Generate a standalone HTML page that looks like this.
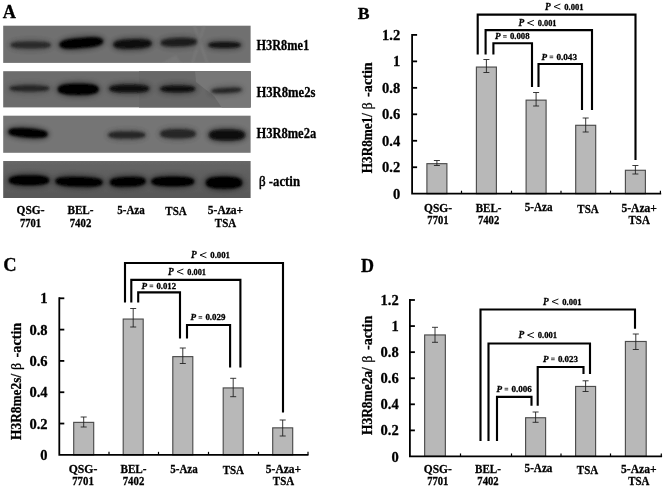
<!DOCTYPE html>
<html><head><meta charset="utf-8"><title>Figure</title>
<style>
html,body{margin:0;padding:0;background:#fff;}
body{width:665px;height:491px;overflow:hidden;font-family:"Liberation Serif",serif;}
svg{display:block;}
svg text{font-family:"Liberation Serif",serif;fill:#000;stroke:#000;stroke-width:0.28px;}
</style></head><body>
<svg width="665" height="491" viewBox="0 0 665 491">
<defs>
<filter id="bl1" x="-30%" y="-80%" width="160%" height="260%"><feGaussianBlur stdDeviation="1.3"/></filter>
<filter id="bl2" x="-30%" y="-80%" width="160%" height="260%"><feGaussianBlur stdDeviation="2.4"/></filter>
<linearGradient id="g4" x1="0" y1="0" x2="0" y2="1"><stop offset="0" stop-color="#676767"/><stop offset="0.35" stop-color="#5f5f5f"/><stop offset="1" stop-color="#585858"/></linearGradient>
<filter id="soft" x="-5%" y="-5%" width="110%" height="110%"><feGaussianBlur stdDeviation="0.35"/></filter>
</defs>
<rect width="665" height="491" fill="#fff"/>
<g filter="url(#soft)">
<text x="2.8" y="17.7" font-size="18.2" font-weight="bold" font-style="normal" text-anchor="start" >A</text>
<g><rect x="3.2" y="25.7" width="247.4" height="37.2" fill="#707070"/>
<clipPath id="c25"><rect x="3.2" y="25.7" width="247.4" height="37.2"/></clipPath>
<g clip-path="url(#c25)">
<g opacity="0.4" filter="url(#bl1)"><path d="M204.5 25 L192 64" stroke="#858585" stroke-width="2.5"/><path d="M194 25 L207.5 64" stroke="#858585" stroke-width="2.5"/><path d="M160 64 L176 55 L182 64Z" fill="#858585"/></g>
<path d="M52.5 45.0 L52.3 46.2 L51.6 47.1 L50.5 47.9 L49.0 48.6 L47.0 49.2 L44.7 49.7 L42.0 50.0 L38.9 50.3 L35.4 50.5 L30.8 50.5 L26.1 50.5 L22.6 50.3 L19.5 50.0 L16.8 49.7 L14.5 49.2 L12.5 48.6 L11.0 47.9 L9.9 47.1 L9.2 46.2 L9.0 45.0 L9.2 43.8 L9.9 42.9 L11.0 42.1 L12.5 41.4 L14.5 40.8 L16.8 40.3 L19.5 40.0 L22.6 39.7 L26.1 39.5 L30.7 39.5 L35.4 39.5 L38.9 39.7 L42.0 40.0 L44.7 40.3 L47.0 40.8 L49.0 41.4 L50.5 42.1 L51.6 42.9 L52.3 43.8Z" fill="#202020" opacity="0.36000000000000004" filter="url(#bl2)" transform="rotate(0 30.75 45)"/>
<path d="M50.5 45.0 L50.3 45.9 L49.8 46.4 L48.9 46.9 L47.6 47.3 L46.0 47.7 L44.1 47.9 L41.8 48.2 L39.0 48.3 L35.7 48.4 L30.8 48.5 L25.8 48.4 L22.5 48.3 L19.7 48.2 L17.4 47.9 L15.5 47.7 L13.9 47.3 L12.6 46.9 L11.7 46.4 L11.2 45.9 L11.0 45.0 L11.2 44.1 L11.7 43.6 L12.6 43.1 L13.9 42.7 L15.5 42.3 L17.4 42.1 L19.7 41.8 L22.5 41.7 L25.8 41.6 L30.7 41.5 L35.7 41.6 L39.0 41.7 L41.8 41.8 L44.1 42.1 L46.0 42.3 L47.6 42.7 L48.9 43.1 L49.8 43.6 L50.3 44.1Z" fill="#202020" opacity="0.8" filter="url(#bl1)" transform="rotate(0 30.75 45)"/>
<path d="M105.0 43.0 L104.8 44.5 L104.0 45.7 L102.8 46.7 L101.2 47.6 L99.0 48.4 L96.5 49.0 L93.5 49.5 L90.2 49.9 L86.3 50.1 L81.3 50.2 L76.2 50.1 L72.3 49.9 L69.0 49.5 L66.0 49.0 L63.5 48.4 L61.3 47.6 L59.7 46.7 L58.5 45.7 L57.7 44.5 L57.5 43.0 L57.7 41.5 L58.5 40.3 L59.7 39.3 L61.3 38.4 L63.5 37.6 L66.0 37.0 L69.0 36.5 L72.3 36.1 L76.2 35.9 L81.2 35.8 L86.3 35.9 L90.2 36.1 L93.5 36.5 L96.5 37.0 L99.0 37.6 L101.2 38.4 L102.8 39.3 L104.0 40.3 L104.8 41.5Z" fill="#050505" opacity="0.4365" filter="url(#bl2)" transform="rotate(-5 81.25 43)"/>
<path d="M103.0 43.0 L102.8 44.3 L102.2 45.1 L101.2 45.8 L99.8 46.4 L98.1 46.9 L95.9 47.4 L93.4 47.7 L90.4 47.9 L86.8 48.1 L81.3 48.1 L75.7 48.1 L72.1 47.9 L69.1 47.7 L66.6 47.4 L64.4 46.9 L62.7 46.4 L61.3 45.8 L60.3 45.1 L59.7 44.3 L59.5 43.0 L59.7 41.7 L60.3 40.9 L61.3 40.2 L62.7 39.6 L64.4 39.1 L66.6 38.6 L69.1 38.3 L72.1 38.1 L75.7 37.9 L81.2 37.9 L86.8 37.9 L90.4 38.1 L93.4 38.3 L95.9 38.6 L98.1 39.1 L99.8 39.6 L101.2 40.2 L102.2 40.9 L102.8 41.7Z" fill="#050505" opacity="0.97" filter="url(#bl1)" transform="rotate(-5 81.25 43)"/>
<path d="M153.5 44.0 L153.3 45.4 L152.6 46.6 L151.6 47.5 L150.1 48.4 L148.2 49.1 L146.0 49.7 L143.4 50.2 L140.4 50.5 L137.0 50.7 L132.5 50.8 L128.0 50.7 L124.6 50.5 L121.6 50.2 L119.0 49.7 L116.8 49.1 L114.9 48.4 L113.4 47.5 L112.4 46.6 L111.7 45.4 L111.5 44.0 L111.7 42.6 L112.4 41.4 L113.4 40.5 L114.9 39.6 L116.8 38.9 L119.0 38.3 L121.6 37.8 L124.6 37.5 L128.0 37.3 L132.5 37.2 L137.0 37.3 L140.4 37.5 L143.4 37.8 L146.0 38.3 L148.2 38.9 L150.1 39.6 L151.6 40.5 L152.6 41.4 L153.3 42.6Z" fill="#0c0c0c" opacity="0.4275" filter="url(#bl2)" transform="rotate(-2 132.5 44)"/>
<path d="M151.5 44.0 L151.3 45.2 L150.8 46.0 L149.9 46.6 L148.7 47.2 L147.2 47.6 L145.3 48.0 L143.1 48.3 L140.5 48.5 L137.3 48.7 L132.5 48.7 L127.7 48.7 L124.5 48.5 L121.9 48.3 L119.7 48.0 L117.8 47.6 L116.3 47.2 L115.1 46.6 L114.2 46.0 L113.7 45.2 L113.5 44.0 L113.7 42.8 L114.2 42.0 L115.1 41.4 L116.3 40.8 L117.8 40.4 L119.7 40.0 L121.9 39.7 L124.5 39.5 L127.7 39.3 L132.5 39.3 L137.3 39.3 L140.5 39.5 L143.1 39.7 L145.3 40.0 L147.2 40.4 L148.7 40.8 L149.9 41.4 L150.8 42.0 L151.3 42.8Z" fill="#0c0c0c" opacity="0.95" filter="url(#bl1)" transform="rotate(-2 132.5 44)"/>
<path d="M198.5 42.3 L198.3 43.6 L197.7 44.6 L196.7 45.5 L195.3 46.2 L193.5 46.9 L191.4 47.4 L189.0 47.8 L186.2 48.2 L183.0 48.3 L178.8 48.4 L174.5 48.3 L171.3 48.2 L168.5 47.8 L166.1 47.4 L164.0 46.9 L162.2 46.2 L160.8 45.5 L159.8 44.6 L159.2 43.6 L159.0 42.3 L159.2 41.0 L159.8 40.0 L160.8 39.1 L162.2 38.4 L164.0 37.7 L166.1 37.2 L168.5 36.8 L171.3 36.4 L174.5 36.3 L178.7 36.2 L183.0 36.3 L186.2 36.4 L189.0 36.8 L191.4 37.2 L193.5 37.7 L195.3 38.4 L196.7 39.1 L197.7 40.0 L198.3 41.0Z" fill="#161616" opacity="0.387" filter="url(#bl2)" transform="rotate(-2 178.75 42.3)"/>
<path d="M196.5 42.3 L196.3 43.3 L195.9 44.0 L195.0 44.5 L193.9 45.0 L192.5 45.4 L190.7 45.7 L188.6 46.0 L186.2 46.2 L183.2 46.3 L178.8 46.3 L174.3 46.3 L171.3 46.2 L168.9 46.0 L166.8 45.7 L165.0 45.4 L163.6 45.0 L162.5 44.5 L161.6 44.0 L161.2 43.3 L161.0 42.3 L161.2 41.3 L161.6 40.6 L162.5 40.1 L163.6 39.6 L165.0 39.2 L166.8 38.9 L168.9 38.6 L171.3 38.4 L174.3 38.3 L178.7 38.3 L183.2 38.3 L186.2 38.4 L188.6 38.6 L190.7 38.9 L192.5 39.2 L193.9 39.6 L195.0 40.1 L195.9 40.6 L196.3 41.3Z" fill="#161616" opacity="0.86" filter="url(#bl1)" transform="rotate(-2 178.75 42.3)"/>
<path d="M242.5 45.0 L242.3 46.1 L241.8 46.9 L240.8 47.6 L239.6 48.2 L238.0 48.8 L236.1 49.2 L233.8 49.6 L231.3 49.8 L228.3 50.0 L224.5 50.0 L220.7 50.0 L217.7 49.8 L215.2 49.6 L212.9 49.2 L211.0 48.8 L209.4 48.2 L208.2 47.6 L207.2 46.9 L206.7 46.1 L206.5 45.0 L206.7 43.9 L207.2 43.1 L208.2 42.4 L209.4 41.8 L211.0 41.2 L212.9 40.8 L215.2 40.4 L217.7 40.2 L220.7 40.0 L224.5 40.0 L228.3 40.0 L231.3 40.2 L233.8 40.4 L236.1 40.8 L238.0 41.2 L239.6 41.8 L240.8 42.4 L241.8 43.1 L242.3 43.9Z" fill="#101010" opacity="0.405" filter="url(#bl2)" transform="rotate(0 224.5 45)"/>
<path d="M240.5 45.0 L240.4 45.7 L239.9 46.2 L239.2 46.6 L238.2 47.0 L236.9 47.3 L235.3 47.5 L233.4 47.7 L231.2 47.8 L228.5 47.9 L224.5 48.0 L220.5 47.9 L217.8 47.8 L215.6 47.7 L213.7 47.5 L212.1 47.3 L210.8 47.0 L209.8 46.6 L209.1 46.2 L208.6 45.7 L208.5 45.0 L208.6 44.3 L209.1 43.8 L209.8 43.4 L210.8 43.0 L212.1 42.7 L213.7 42.5 L215.6 42.3 L217.8 42.2 L220.5 42.1 L224.5 42.0 L228.5 42.1 L231.2 42.2 L233.4 42.3 L235.3 42.5 L236.9 42.7 L238.2 43.0 L239.2 43.4 L239.9 43.8 L240.4 44.3Z" fill="#101010" opacity="0.9" filter="url(#bl1)" transform="rotate(0 224.5 45)"/>
</g></g>
<g><rect x="3.2" y="71.2" width="247.4" height="36.2" fill="#6c6c6c"/>
<clipPath id="c71"><rect x="3.2" y="71.2" width="247.4" height="36.2"/></clipPath>
<g clip-path="url(#c71)">
<polygon points="139,71 251,71 251,108 139,108" fill="#676767"/><polygon points="195,71 251,71 251,108 222,108 214,96 196,82" fill="#777777"/>
<path d="M51.0 88.4 L50.8 89.4 L50.1 90.2 L49.0 90.9 L47.5 91.5 L45.6 92.1 L43.3 92.5 L40.6 92.9 L37.6 93.1 L34.1 93.2 L29.5 93.3 L24.9 93.2 L21.4 93.1 L18.4 92.9 L15.7 92.5 L13.4 92.1 L11.5 91.5 L10.0 90.9 L8.9 90.2 L8.2 89.4 L8.0 88.4 L8.2 87.4 L8.9 86.6 L10.0 85.9 L11.5 85.3 L13.4 84.7 L15.7 84.3 L18.4 83.9 L21.4 83.7 L24.9 83.6 L29.5 83.5 L34.1 83.6 L37.6 83.7 L40.6 83.9 L43.3 84.3 L45.6 84.7 L47.5 85.3 L49.0 85.9 L50.1 86.6 L50.8 87.4Z" fill="#1a1a1a" opacity="0.369" filter="url(#bl2)" transform="rotate(0 29.5 88.4)"/>
<path d="M49.0 88.4 L48.8 89.1 L48.3 89.6 L47.4 90.0 L46.2 90.3 L44.6 90.6 L42.7 90.8 L40.4 91.0 L37.7 91.1 L34.4 91.2 L29.5 91.2 L24.6 91.2 L21.3 91.1 L18.6 91.0 L16.3 90.8 L14.4 90.6 L12.8 90.3 L11.6 90.0 L10.7 89.6 L10.2 89.1 L10.0 88.4 L10.2 87.7 L10.7 87.2 L11.6 86.8 L12.8 86.5 L14.4 86.2 L16.3 86.0 L18.6 85.8 L21.3 85.7 L24.6 85.6 L29.5 85.6 L34.4 85.6 L37.7 85.7 L40.4 85.8 L42.7 86.0 L44.6 86.2 L46.2 86.5 L47.4 86.8 L48.3 87.2 L48.8 87.7Z" fill="#1a1a1a" opacity="0.82" filter="url(#bl1)" transform="rotate(0 29.5 88.4)"/>
<path d="M100.5 89.3 L100.3 90.9 L99.6 92.2 L98.5 93.3 L96.9 94.2 L94.9 95.1 L92.5 95.8 L89.8 96.3 L86.6 96.7 L83.0 96.9 L78.3 97.0 L73.5 96.9 L69.9 96.7 L66.7 96.3 L64.0 95.8 L61.6 95.1 L59.6 94.2 L58.0 93.3 L56.9 92.2 L56.2 90.9 L56.0 89.3 L56.2 87.7 L56.9 86.4 L58.0 85.3 L59.6 84.4 L61.6 83.5 L64.0 82.8 L66.7 82.3 L69.9 81.9 L73.5 81.7 L78.2 81.6 L83.0 81.7 L86.6 81.9 L89.8 82.3 L92.5 82.8 L94.9 83.5 L96.9 84.4 L98.5 85.3 L99.6 86.4 L100.3 87.7Z" fill="#000000" opacity="0.45" filter="url(#bl2)" transform="rotate(0 78.25 89.3)"/>
<path d="M98.5 89.3 L98.3 90.7 L97.8 91.6 L96.8 92.4 L95.6 93.1 L93.9 93.6 L91.9 94.1 L89.5 94.4 L86.7 94.7 L83.4 94.8 L78.3 94.9 L73.1 94.8 L69.8 94.7 L67.0 94.4 L64.6 94.1 L62.6 93.6 L60.9 93.1 L59.7 92.4 L58.7 91.6 L58.2 90.7 L58.0 89.3 L58.2 87.9 L58.7 87.0 L59.7 86.2 L60.9 85.5 L62.6 85.0 L64.6 84.5 L67.0 84.2 L69.8 83.9 L73.1 83.8 L78.2 83.7 L83.4 83.8 L86.7 83.9 L89.5 84.2 L91.9 84.5 L93.9 85.0 L95.6 85.5 L96.8 86.2 L97.8 87.0 L98.3 87.9Z" fill="#000000" opacity="1.0" filter="url(#bl1)" transform="rotate(0 78.25 89.3)"/>
<path d="M151.0 88.6 L150.8 89.9 L150.1 90.9 L149.0 91.8 L147.5 92.5 L145.5 93.2 L143.2 93.7 L140.5 94.1 L137.4 94.5 L133.9 94.6 L129.3 94.7 L124.6 94.6 L121.1 94.5 L118.0 94.1 L115.3 93.7 L113.0 93.2 L111.0 92.5 L109.5 91.8 L108.4 90.9 L107.7 89.9 L107.5 88.6 L107.7 87.3 L108.4 86.3 L109.5 85.4 L111.0 84.7 L113.0 84.0 L115.3 83.5 L118.0 83.1 L121.1 82.7 L124.6 82.6 L129.2 82.5 L133.9 82.6 L137.4 82.7 L140.5 83.1 L143.2 83.5 L145.5 84.0 L147.5 84.7 L149.0 85.4 L150.1 86.3 L150.8 87.3Z" fill="#0e0e0e" opacity="0.41400000000000003" filter="url(#bl2)" transform="rotate(0 129.25 88.6)"/>
<path d="M149.0 88.6 L148.8 89.6 L148.3 90.3 L147.4 90.8 L146.1 91.3 L144.5 91.7 L142.6 92.0 L140.3 92.3 L137.5 92.5 L134.2 92.6 L129.3 92.6 L124.3 92.6 L121.0 92.5 L118.2 92.3 L115.9 92.0 L114.0 91.7 L112.4 91.3 L111.1 90.8 L110.2 90.3 L109.7 89.6 L109.5 88.6 L109.7 87.6 L110.2 86.9 L111.1 86.4 L112.4 85.9 L114.0 85.5 L115.9 85.2 L118.2 84.9 L121.0 84.7 L124.3 84.6 L129.2 84.6 L134.2 84.6 L137.5 84.7 L140.3 84.9 L142.6 85.2 L144.5 85.5 L146.1 85.9 L147.4 86.4 L148.3 86.9 L148.8 87.6Z" fill="#0e0e0e" opacity="0.92" filter="url(#bl1)" transform="rotate(0 129.25 88.6)"/>
<path d="M197.0 88.9 L196.8 90.1 L196.2 90.9 L195.2 91.7 L193.9 92.4 L192.2 92.9 L190.1 93.4 L187.7 93.8 L185.0 94.1 L181.9 94.2 L177.8 94.3 L173.6 94.2 L170.5 94.1 L167.8 93.8 L165.4 93.4 L163.3 92.9 L161.6 92.4 L160.3 91.7 L159.3 90.9 L158.7 90.1 L158.5 88.9 L158.7 87.7 L159.3 86.9 L160.3 86.1 L161.6 85.4 L163.3 84.9 L165.4 84.4 L167.8 84.0 L170.5 83.7 L173.6 83.6 L177.7 83.5 L181.9 83.6 L185.0 83.7 L187.7 84.0 L190.1 84.4 L192.2 84.9 L193.9 85.4 L195.2 86.1 L196.2 86.9 L196.8 87.7Z" fill="#101010" opacity="0.41400000000000003" filter="url(#bl2)" transform="rotate(0 177.75 88.9)"/>
<path d="M195.0 88.9 L194.8 89.7 L194.4 90.3 L193.6 90.7 L192.5 91.1 L191.1 91.5 L189.4 91.7 L187.4 91.9 L185.0 92.1 L182.1 92.2 L177.8 92.2 L173.4 92.2 L170.5 92.1 L168.1 91.9 L166.1 91.7 L164.4 91.5 L163.0 91.1 L161.9 90.7 L161.1 90.3 L160.7 89.7 L160.5 88.9 L160.7 88.1 L161.1 87.5 L161.9 87.1 L163.0 86.7 L164.4 86.3 L166.1 86.1 L168.1 85.9 L170.5 85.7 L173.4 85.6 L177.7 85.6 L182.1 85.6 L185.0 85.7 L187.4 85.9 L189.4 86.1 L191.1 86.3 L192.5 86.7 L193.6 87.1 L194.4 87.5 L194.8 88.1Z" fill="#101010" opacity="0.92" filter="url(#bl1)" transform="rotate(0 177.75 88.9)"/>
<path d="M243.5 90.4 L243.3 91.4 L242.8 92.1 L241.9 92.8 L240.7 93.4 L239.2 93.8 L237.4 94.3 L235.3 94.6 L232.9 94.8 L230.1 95.0 L226.5 95.0 L222.9 95.0 L220.1 94.8 L217.7 94.6 L215.6 94.3 L213.8 93.8 L212.3 93.4 L211.1 92.8 L210.2 92.1 L209.7 91.4 L209.5 90.4 L209.7 89.4 L210.2 88.7 L211.1 88.0 L212.3 87.4 L213.8 87.0 L215.6 86.5 L217.7 86.2 L220.1 86.0 L222.9 85.8 L226.5 85.8 L230.1 85.8 L232.9 86.0 L235.3 86.2 L237.4 86.5 L239.2 87.0 L240.7 87.4 L241.9 88.0 L242.8 88.7 L243.3 89.4Z" fill="#1c1c1c" opacity="0.36000000000000004" filter="url(#bl2)" transform="rotate(-3 226.5 90.4)"/>
<path d="M241.5 90.4 L241.4 91.0 L241.0 91.4 L240.3 91.8 L239.3 92.1 L238.1 92.3 L236.6 92.5 L234.9 92.7 L232.8 92.8 L230.3 92.9 L226.5 92.9 L222.7 92.9 L220.2 92.8 L218.1 92.7 L216.4 92.5 L214.9 92.3 L213.7 92.1 L212.7 91.8 L212.0 91.4 L211.6 91.0 L211.5 90.4 L211.6 89.8 L212.0 89.4 L212.7 89.0 L213.7 88.7 L214.9 88.5 L216.4 88.3 L218.1 88.1 L220.2 88.0 L222.7 87.9 L226.5 87.9 L230.3 87.9 L232.8 88.0 L234.9 88.1 L236.6 88.3 L238.1 88.5 L239.3 88.7 L240.3 89.0 L241.0 89.4 L241.4 89.8Z" fill="#1c1c1c" opacity="0.8" filter="url(#bl1)" transform="rotate(-3 226.5 90.4)"/>
</g></g>
<g><rect x="3.2" y="115.7" width="247.4" height="37.1" fill="#757575"/>
<clipPath id="c115"><rect x="3.2" y="115.7" width="247.4" height="37.1"/></clipPath>
<g clip-path="url(#c115)">

<path d="M49.5 133.0 L49.3 134.4 L48.6 135.5 L47.5 136.4 L46.0 137.2 L44.1 137.9 L41.8 138.5 L39.1 139.0 L36.1 139.3 L32.6 139.5 L28.0 139.6 L23.4 139.5 L19.9 139.3 L16.9 139.0 L14.2 138.5 L11.9 137.9 L10.0 137.2 L8.5 136.4 L7.4 135.5 L6.7 134.4 L6.5 133.0 L6.7 131.6 L7.4 130.5 L8.5 129.6 L10.0 128.8 L11.9 128.1 L14.2 127.5 L16.9 127.0 L19.9 126.7 L23.4 126.5 L28.0 126.4 L32.6 126.5 L36.1 126.7 L39.1 127.0 L41.8 127.5 L44.1 128.1 L46.0 128.8 L47.5 129.6 L48.6 130.5 L49.3 131.6Z" fill="#050505" opacity="0.45" filter="url(#bl2)" transform="rotate(4 28.0 133)"/>
<path d="M47.5 133.0 L47.3 134.1 L46.8 134.9 L45.9 135.5 L44.7 136.0 L43.1 136.5 L41.2 136.8 L38.9 137.1 L36.2 137.3 L32.9 137.5 L28.0 137.5 L23.1 137.5 L19.8 137.3 L17.1 137.1 L14.8 136.8 L12.9 136.5 L11.3 136.0 L10.1 135.5 L9.2 134.9 L8.7 134.1 L8.5 133.0 L8.7 131.9 L9.2 131.1 L10.1 130.5 L11.3 130.0 L12.9 129.5 L14.8 129.2 L17.1 128.9 L19.8 128.7 L23.1 128.5 L28.0 128.5 L32.9 128.5 L36.2 128.7 L38.9 128.9 L41.2 129.2 L43.1 129.5 L44.7 130.0 L45.9 130.5 L46.8 131.1 L47.3 131.9Z" fill="#050505" opacity="1.0" filter="url(#bl1)" transform="rotate(4 28.0 133)"/>
<path d="M147.0 135.0 L146.8 136.2 L146.2 137.1 L145.1 137.9 L143.7 138.6 L141.9 139.2 L139.8 139.7 L137.2 140.0 L134.4 140.3 L131.1 140.5 L126.8 140.6 L122.4 140.5 L119.1 140.3 L116.3 140.0 L113.7 139.7 L111.6 139.2 L109.8 138.6 L108.4 137.9 L107.3 137.1 L106.7 136.2 L106.5 135.0 L106.7 133.8 L107.3 132.9 L108.4 132.1 L109.8 131.4 L111.6 130.8 L113.7 130.3 L116.3 130.0 L119.1 129.7 L122.4 129.5 L126.7 129.4 L131.1 129.5 L134.4 129.7 L137.2 130.0 L139.8 130.3 L141.9 130.8 L143.7 131.4 L145.1 132.1 L146.2 132.9 L146.8 133.8Z" fill="#1e1e1e" opacity="0.36000000000000004" filter="url(#bl2)" transform="rotate(0 126.75 135)"/>
<path d="M145.0 135.0 L144.8 135.9 L144.3 136.4 L143.5 136.9 L142.3 137.3 L140.9 137.7 L139.1 137.9 L136.9 138.2 L134.4 138.3 L131.4 138.4 L126.8 138.4 L122.1 138.4 L119.1 138.3 L116.6 138.2 L114.4 137.9 L112.6 137.7 L111.2 137.3 L110.0 136.9 L109.2 136.4 L108.7 135.9 L108.5 135.0 L108.7 134.1 L109.2 133.6 L110.0 133.1 L111.2 132.7 L112.6 132.3 L114.4 132.1 L116.6 131.8 L119.1 131.7 L122.1 131.6 L126.7 131.6 L131.4 131.6 L134.4 131.7 L136.9 131.8 L139.1 132.1 L140.9 132.3 L142.3 132.7 L143.5 133.1 L144.3 133.6 L144.8 134.1Z" fill="#1e1e1e" opacity="0.8" filter="url(#bl1)" transform="rotate(0 126.75 135)"/>
<path d="M197.5 133.8 L197.3 135.2 L196.7 136.3 L195.7 137.2 L194.3 138.0 L192.6 138.7 L190.5 139.3 L188.1 139.8 L185.3 140.1 L182.2 140.3 L178.0 140.4 L173.8 140.3 L170.7 140.1 L167.9 139.8 L165.5 139.3 L163.4 138.7 L161.7 138.0 L160.3 137.2 L159.3 136.3 L158.7 135.2 L158.5 133.8 L158.7 132.4 L159.3 131.3 L160.3 130.4 L161.7 129.6 L163.4 128.9 L165.5 128.3 L167.9 127.8 L170.7 127.5 L173.8 127.3 L178.0 127.2 L182.2 127.3 L185.3 127.5 L188.1 127.8 L190.5 128.3 L192.6 128.9 L194.3 129.6 L195.7 130.4 L196.7 131.3 L197.3 132.4Z" fill="#1c1c1c" opacity="0.36000000000000004" filter="url(#bl2)" transform="rotate(0 178.0 133.8)"/>
<path d="M195.5 133.8 L195.3 134.9 L194.9 135.7 L194.1 136.3 L193.0 136.8 L191.5 137.3 L189.8 137.6 L187.7 137.9 L185.3 138.1 L182.4 138.3 L178.0 138.3 L173.6 138.3 L170.7 138.1 L168.3 137.9 L166.2 137.6 L164.5 137.3 L163.0 136.8 L161.9 136.3 L161.1 135.7 L160.7 134.9 L160.5 133.8 L160.7 132.7 L161.1 131.9 L161.9 131.3 L163.0 130.8 L164.5 130.3 L166.2 130.0 L168.3 129.7 L170.7 129.5 L173.6 129.3 L178.0 129.3 L182.4 129.3 L185.3 129.5 L187.7 129.7 L189.8 130.0 L191.5 130.3 L193.0 130.8 L194.1 131.3 L194.9 131.9 L195.3 132.7Z" fill="#1c1c1c" opacity="0.8" filter="url(#bl1)" transform="rotate(0 178.0 133.8)"/>
<path d="M247.0 135.0 L246.8 136.6 L246.2 137.9 L245.2 138.9 L243.8 139.9 L242.0 140.7 L239.8 141.4 L237.4 141.9 L234.5 142.3 L231.3 142.5 L227.0 142.6 L222.7 142.5 L219.5 142.3 L216.6 141.9 L214.2 141.4 L212.0 140.7 L210.2 139.9 L208.8 138.9 L207.8 137.9 L207.2 136.6 L207.0 135.0 L207.2 133.4 L207.8 132.1 L208.8 131.1 L210.2 130.1 L212.0 129.3 L214.2 128.6 L216.6 128.1 L219.5 127.7 L222.7 127.5 L227.0 127.4 L231.3 127.5 L234.5 127.7 L237.4 128.1 L239.8 128.6 L242.0 129.3 L243.8 130.1 L245.2 131.1 L246.2 132.1 L246.8 133.4Z" fill="#0c0c0c" opacity="0.41850000000000004" filter="url(#bl2)" transform="rotate(0 227.0 135)"/>
<path d="M245.0 135.0 L244.8 136.4 L244.3 137.3 L243.5 138.1 L242.4 138.7 L240.9 139.3 L239.1 139.7 L237.0 140.0 L234.5 140.3 L231.6 140.4 L227.0 140.5 L222.4 140.4 L219.5 140.3 L217.0 140.0 L214.9 139.7 L213.1 139.3 L211.6 138.7 L210.5 138.1 L209.7 137.3 L209.2 136.4 L209.0 135.0 L209.2 133.6 L209.7 132.7 L210.5 131.9 L211.6 131.3 L213.1 130.7 L214.9 130.3 L217.0 130.0 L219.5 129.7 L222.4 129.6 L227.0 129.5 L231.6 129.6 L234.5 129.7 L237.0 130.0 L239.1 130.3 L240.9 130.7 L242.4 131.3 L243.5 131.9 L244.3 132.7 L244.8 133.6Z" fill="#0c0c0c" opacity="0.93" filter="url(#bl1)" transform="rotate(0 227.0 135)"/>
</g></g>
<g><rect x="3.2" y="161" width="247.4" height="37" fill="url(#g4)"/>
<clipPath id="c161"><rect x="3.2" y="161" width="247.4" height="37"/></clipPath>
<g clip-path="url(#c161)">

<path d="M51.0 180.3 L50.8 181.8 L50.1 182.9 L49.0 184.0 L47.4 184.8 L45.5 185.6 L43.1 186.2 L40.4 186.7 L37.3 187.1 L33.7 187.3 L29.0 187.4 L24.3 187.3 L20.7 187.1 L17.6 186.7 L14.9 186.2 L12.5 185.6 L10.6 184.8 L9.0 184.0 L7.9 182.9 L7.2 181.8 L7.0 180.3 L7.2 178.8 L7.9 177.7 L9.0 176.6 L10.6 175.8 L12.5 175.0 L14.9 174.4 L17.6 173.9 L20.7 173.5 L24.3 173.3 L29.0 173.2 L33.7 173.3 L37.3 173.5 L40.4 173.9 L43.1 174.4 L45.5 175.0 L47.4 175.8 L49.0 176.6 L50.1 177.7 L50.8 178.8Z" fill="#000000" opacity="0.45" filter="url(#bl2)" transform="rotate(0 29.0 180.3)"/>
<path d="M49.0 180.3 L48.8 181.6 L48.3 182.4 L47.4 183.1 L46.1 183.6 L44.5 184.1 L42.5 184.5 L40.1 184.8 L37.4 185.1 L34.1 185.2 L29.0 185.2 L23.9 185.2 L20.6 185.1 L17.9 184.8 L15.5 184.5 L13.5 184.1 L11.9 183.6 L10.6 183.1 L9.7 182.4 L9.2 181.6 L9.0 180.3 L9.2 179.0 L9.7 178.2 L10.6 177.5 L11.9 177.0 L13.5 176.5 L15.5 176.1 L17.9 175.8 L20.6 175.5 L23.9 175.4 L29.0 175.4 L34.1 175.4 L37.4 175.5 L40.1 175.8 L42.5 176.1 L44.5 176.5 L46.1 177.0 L47.4 177.5 L48.3 178.2 L48.8 179.0Z" fill="#000000" opacity="1.0" filter="url(#bl1)" transform="rotate(0 29.0 180.3)"/>
<path d="M104.5 181.8 L104.2 183.3 L103.5 184.4 L102.2 185.4 L100.4 186.2 L98.1 187.0 L95.4 187.6 L92.2 188.1 L88.6 188.4 L84.4 188.6 L79.0 188.7 L73.6 188.6 L69.4 188.4 L65.8 188.1 L62.6 187.6 L59.9 187.0 L57.6 186.2 L55.8 185.4 L54.5 184.4 L53.8 183.3 L53.5 181.8 L53.8 180.3 L54.5 179.2 L55.8 178.2 L57.6 177.4 L59.9 176.6 L62.6 176.0 L65.8 175.5 L69.4 175.2 L73.6 175.0 L79.0 174.9 L84.4 175.0 L88.6 175.2 L92.2 175.5 L95.4 176.0 L98.1 176.6 L100.4 177.4 L102.2 178.2 L103.5 179.2 L104.2 180.3Z" fill="#000000" opacity="0.45" filter="url(#bl2)" transform="rotate(1.5 79.0 181.8)"/>
<path d="M102.5 181.8 L102.3 183.0 L101.6 183.8 L100.6 184.5 L99.1 185.0 L97.2 185.5 L94.9 185.9 L92.1 186.2 L88.8 186.4 L84.9 186.6 L79.0 186.6 L73.1 186.6 L69.2 186.4 L65.9 186.2 L63.1 185.9 L60.8 185.5 L58.9 185.0 L57.4 184.5 L56.4 183.8 L55.7 183.0 L55.5 181.8 L55.7 180.6 L56.4 179.8 L57.4 179.1 L58.9 178.6 L60.8 178.1 L63.1 177.7 L65.9 177.4 L69.2 177.2 L73.1 177.0 L79.0 177.0 L84.9 177.0 L88.8 177.2 L92.1 177.4 L94.9 177.7 L97.2 178.1 L99.1 178.6 L100.6 179.1 L101.6 179.8 L102.3 180.6Z" fill="#000000" opacity="1.0" filter="url(#bl1)" transform="rotate(1.5 79.0 181.8)"/>
<path d="M147.5 181.8 L147.3 183.3 L146.7 184.4 L145.7 185.4 L144.3 186.2 L142.5 187.0 L140.4 187.6 L138.0 188.1 L135.2 188.4 L132.0 188.6 L127.8 188.7 L123.5 188.6 L120.3 188.4 L117.5 188.1 L115.1 187.6 L113.0 187.0 L111.2 186.2 L109.8 185.4 L108.8 184.4 L108.2 183.3 L108.0 181.8 L108.2 180.3 L108.8 179.2 L109.8 178.2 L111.2 177.4 L113.0 176.6 L115.1 176.0 L117.5 175.5 L120.3 175.2 L123.5 175.0 L127.7 174.9 L132.0 175.0 L135.2 175.2 L138.0 175.5 L140.4 176.0 L142.5 176.6 L144.3 177.4 L145.7 178.2 L146.7 179.2 L147.3 180.3Z" fill="#000000" opacity="0.45" filter="url(#bl2)" transform="rotate(-2 127.75 181.8)"/>
<path d="M145.5 181.8 L145.3 183.0 L144.9 183.8 L144.0 184.5 L142.9 185.0 L141.5 185.5 L139.7 185.9 L137.6 186.2 L135.2 186.4 L132.2 186.6 L127.8 186.6 L123.3 186.6 L120.3 186.4 L117.9 186.2 L115.8 185.9 L114.0 185.5 L112.6 185.0 L111.5 184.5 L110.6 183.8 L110.2 183.0 L110.0 181.8 L110.2 180.6 L110.6 179.8 L111.5 179.1 L112.6 178.6 L114.0 178.1 L115.8 177.7 L117.9 177.4 L120.3 177.2 L123.3 177.0 L127.7 177.0 L132.2 177.0 L135.2 177.2 L137.6 177.4 L139.7 177.7 L141.5 178.1 L142.9 178.6 L144.0 179.1 L144.9 179.8 L145.3 180.6Z" fill="#000000" opacity="1.0" filter="url(#bl1)" transform="rotate(-2 127.75 181.8)"/>
<path d="M196.0 181.5 L195.8 183.0 L195.0 184.1 L193.9 185.1 L192.2 185.9 L190.2 186.7 L187.7 187.3 L184.8 187.8 L181.5 188.1 L177.7 188.3 L172.8 188.4 L167.8 188.3 L164.0 188.1 L160.7 187.8 L157.8 187.3 L155.3 186.7 L153.3 185.9 L151.6 185.1 L150.5 184.1 L149.7 183.0 L149.5 181.5 L149.7 180.0 L150.5 178.9 L151.6 177.9 L153.3 177.1 L155.3 176.3 L157.8 175.7 L160.7 175.2 L164.0 174.9 L167.8 174.7 L172.7 174.6 L177.7 174.7 L181.5 174.9 L184.8 175.2 L187.7 175.7 L190.2 176.3 L192.2 177.1 L193.9 177.9 L195.0 178.9 L195.8 180.0Z" fill="#000000" opacity="0.45" filter="url(#bl2)" transform="rotate(0 172.75 181.5)"/>
<path d="M194.0 181.5 L193.8 182.7 L193.2 183.5 L192.3 184.2 L190.9 184.7 L189.2 185.2 L187.1 185.6 L184.6 185.9 L181.7 186.1 L178.1 186.3 L172.8 186.3 L167.4 186.3 L163.8 186.1 L160.9 185.9 L158.4 185.6 L156.3 185.2 L154.6 184.7 L153.2 184.2 L152.3 183.5 L151.7 182.7 L151.5 181.5 L151.7 180.3 L152.3 179.5 L153.2 178.8 L154.6 178.3 L156.3 177.8 L158.4 177.4 L160.9 177.1 L163.8 176.9 L167.4 176.7 L172.7 176.7 L178.1 176.7 L181.7 176.9 L184.6 177.1 L187.1 177.4 L189.2 177.8 L190.9 178.3 L192.3 178.8 L193.2 179.5 L193.8 180.3Z" fill="#000000" opacity="1.0" filter="url(#bl1)" transform="rotate(0 172.75 181.5)"/>
<path d="M244.0 182.7 L243.8 184.4 L243.2 185.7 L242.2 186.9 L240.8 187.9 L239.0 188.8 L236.8 189.5 L234.4 190.1 L231.5 190.5 L228.3 190.7 L224.0 190.8 L219.7 190.7 L216.5 190.5 L213.6 190.1 L211.2 189.5 L209.0 188.8 L207.2 187.9 L205.8 186.9 L204.8 185.7 L204.2 184.4 L204.0 182.7 L204.2 181.0 L204.8 179.7 L205.8 178.5 L207.2 177.5 L209.0 176.6 L211.2 175.9 L213.6 175.3 L216.5 174.9 L219.7 174.7 L224.0 174.6 L228.3 174.7 L231.5 174.9 L234.4 175.3 L236.8 175.9 L239.0 176.6 L240.8 177.5 L242.2 178.5 L243.2 179.7 L243.8 181.0Z" fill="#000000" opacity="0.45" filter="url(#bl2)" transform="rotate(0 224.0 182.7)"/>
<path d="M242.0 182.7 L241.8 184.2 L241.3 185.2 L240.5 186.0 L239.4 186.7 L237.9 187.3 L236.1 187.8 L234.0 188.2 L231.5 188.5 L228.6 188.6 L224.0 188.7 L219.4 188.6 L216.5 188.5 L214.0 188.2 L211.9 187.8 L210.1 187.3 L208.6 186.7 L207.5 186.0 L206.7 185.2 L206.2 184.2 L206.0 182.7 L206.2 181.2 L206.7 180.2 L207.5 179.4 L208.6 178.7 L210.1 178.1 L211.9 177.6 L214.0 177.2 L216.5 176.9 L219.4 176.8 L224.0 176.7 L228.6 176.8 L231.5 176.9 L234.0 177.2 L236.1 177.6 L237.9 178.1 L239.4 178.7 L240.5 179.4 L241.3 180.2 L241.8 181.2Z" fill="#000000" opacity="1.0" filter="url(#bl1)" transform="rotate(0 224.0 182.7)"/>
</g></g>
<text x="256.4" y="50.2" font-size="14" font-weight="bold" font-style="normal" text-anchor="start" textLength="52.8" lengthAdjust="spacingAndGlyphs" >H3R8me1</text>
<text x="256.4" y="97.3" font-size="14" font-weight="bold" font-style="normal" text-anchor="start" textLength="59" lengthAdjust="spacingAndGlyphs" >H3R8me2s</text>
<text x="256.4" y="138.0" font-size="14" font-weight="bold" font-style="normal" text-anchor="start" textLength="59.8" lengthAdjust="spacingAndGlyphs" >H3R8me2a</text>
<text x="259.0" y="185.5" font-size="14" font-weight="bold" font-style="normal" text-anchor="start" textLength="41" lengthAdjust="spacingAndGlyphs" ><tspan font-weight="normal" stroke-width="0.55" font-size="14.3">&#946;</tspan> -actin</text>
<text x="30.5" y="214.4" font-size="12.3" font-weight="bold" font-style="normal" text-anchor="middle" textLength="27.9" lengthAdjust="spacingAndGlyphs" >QSG-</text>
<text x="30.5" y="227.2" font-size="12" font-weight="bold" font-style="normal" text-anchor="middle" textLength="21.2" lengthAdjust="spacingAndGlyphs" >7701</text>
<text x="80.5" y="214.4" font-size="12.3" font-weight="bold" font-style="normal" text-anchor="middle" textLength="26.2" lengthAdjust="spacingAndGlyphs" >BEL-</text>
<text x="80.5" y="227.2" font-size="12" font-weight="bold" font-style="normal" text-anchor="middle" textLength="21.6" lengthAdjust="spacingAndGlyphs" >7402</text>
<text x="131" y="213.9" font-size="12.3" font-weight="bold" font-style="normal" text-anchor="middle" textLength="27.5" lengthAdjust="spacingAndGlyphs" >5-Aza</text>
<text x="176" y="215.4" font-size="12.3" font-weight="bold" font-style="normal" text-anchor="middle" textLength="21.3" lengthAdjust="spacingAndGlyphs" >TSA</text>
<text x="225.5" y="214.4" font-size="12.3" font-weight="bold" font-style="normal" text-anchor="middle" textLength="35.3" lengthAdjust="spacingAndGlyphs" >5-Aza+</text>
<text x="225.5" y="227.2" font-size="12" font-weight="bold" font-style="normal" text-anchor="middle" textLength="21.3" lengthAdjust="spacingAndGlyphs" >TSA</text>
<text x="357.8" y="19.3" font-size="17.7" font-weight="bold" font-style="normal" text-anchor="start" >B</text>
<rect x="426.90" y="163.66" width="20.00" height="29.94" fill="#b8b8b8" stroke="#4c4c4c" stroke-width="1.15"/>
<path d="M436.9 160.5 L436.9 165.5 M433.9 160.5 L439.9 160.5 M433.9 165.5 L439.9 165.5" stroke="#222" stroke-width="0.9" fill="none"/>
<rect x="476.40" y="67.06" width="20.00" height="126.54" fill="#b8b8b8" stroke="#4c4c4c" stroke-width="1.15"/>
<path d="M486.4 59.5 L486.4 72.5 M483.4 59.5 L489.4 59.5 M483.4 72.5 L489.4 72.5" stroke="#222" stroke-width="0.9" fill="none"/>
<rect x="526.10" y="100.14" width="20.00" height="93.46" fill="#b8b8b8" stroke="#4c4c4c" stroke-width="1.15"/>
<path d="M536.1 92.5 L536.1 106 M533.1 92.5 L539.1 92.5 M533.1 106 L539.1 106" stroke="#222" stroke-width="0.9" fill="none"/>
<rect x="575.70" y="125.29" width="20.00" height="68.31" fill="#b8b8b8" stroke="#4c4c4c" stroke-width="1.15"/>
<path d="M585.7 118 L585.7 132 M582.7 118 L588.7 118 M582.7 132 L588.7 132" stroke="#222" stroke-width="0.9" fill="none"/>
<rect x="625.40" y="170.28" width="20.00" height="23.32" fill="#b8b8b8" stroke="#4c4c4c" stroke-width="1.15"/>
<path d="M635.4 165.5 L635.4 174 M632.4 165.5 L638.4 165.5 M632.4 174 L638.4 174" stroke="#222" stroke-width="0.9" fill="none"/>
<path d="M412.1 33.9 L412.1 193.7 L661.2 193.7" fill="none" stroke="#000" stroke-width="1.8" stroke-linejoin="miter"/>
<text x="400.2" y="199.30" font-size="14.5" font-weight="bold" font-style="normal" text-anchor="end" >0</text>
<line x1="412.1" y1="167.23" x2="417.1" y2="167.23" stroke="#000" stroke-width="1.8"/>
<text x="400.2" y="172.33" font-size="14.5" font-weight="bold" font-style="normal" text-anchor="end" textLength="18.2" lengthAdjust="spacingAndGlyphs" >0.2</text>
<line x1="412.1" y1="140.77" x2="417.1" y2="140.77" stroke="#000" stroke-width="1.8"/>
<text x="400.2" y="145.87" font-size="14.5" font-weight="bold" font-style="normal" text-anchor="end" textLength="18.2" lengthAdjust="spacingAndGlyphs" >0.4</text>
<line x1="412.1" y1="114.30" x2="417.1" y2="114.30" stroke="#000" stroke-width="1.8"/>
<text x="400.2" y="119.40" font-size="14.5" font-weight="bold" font-style="normal" text-anchor="end" textLength="18.2" lengthAdjust="spacingAndGlyphs" >0.6</text>
<line x1="412.1" y1="87.83" x2="417.1" y2="87.83" stroke="#000" stroke-width="1.8"/>
<text x="400.2" y="92.93" font-size="14.5" font-weight="bold" font-style="normal" text-anchor="end" textLength="18.2" lengthAdjust="spacingAndGlyphs" >0.8</text>
<line x1="412.1" y1="61.37" x2="417.1" y2="61.37" stroke="#000" stroke-width="1.8"/>
<text x="400.2" y="66.47" font-size="14.5" font-weight="bold" font-style="normal" text-anchor="end" >1</text>
<line x1="412.1" y1="34.90" x2="417.1" y2="34.90" stroke="#000" stroke-width="1.8"/>
<text x="400.2" y="40.00" font-size="14.5" font-weight="bold" font-style="normal" text-anchor="end" textLength="18.2" lengthAdjust="spacingAndGlyphs" >1.2</text>
<line x1="461.5" y1="193.7" x2="461.5" y2="190.7" stroke="#000" stroke-width="1.2"/>
<line x1="511.5" y1="193.7" x2="511.5" y2="190.7" stroke="#000" stroke-width="1.2"/>
<line x1="561" y1="193.7" x2="561" y2="190.7" stroke="#000" stroke-width="1.2"/>
<line x1="610.5" y1="193.7" x2="610.5" y2="190.7" stroke="#000" stroke-width="1.2"/>
<line x1="660.4" y1="193.7" x2="660.4" y2="190.7" stroke="#000" stroke-width="1.2"/>
<g transform="translate(372.3 173.2) rotate(-90)" font-size="14.3" font-weight="bold"><text x="0" y="0" textLength="60" lengthAdjust="spacingAndGlyphs">H3R8me1/</text><text x="63.8" y="0" font-weight="normal" font-size="14" stroke-width="0.5">&#946;</text><text x="76.3" y="0" textLength="34.6" lengthAdjust="spacingAndGlyphs">-actin</text></g>
<text x="438" y="211.79999999999998" font-size="12.3" font-weight="bold" font-style="normal" text-anchor="middle" textLength="28.0" lengthAdjust="spacingAndGlyphs" >QSG-</text>
<text x="438" y="223.79999999999998" font-size="12" font-weight="bold" font-style="normal" text-anchor="middle" textLength="21.3" lengthAdjust="spacingAndGlyphs" >7701</text>
<text x="488.6" y="211.79999999999998" font-size="12.3" font-weight="bold" font-style="normal" text-anchor="middle" textLength="25.8" lengthAdjust="spacingAndGlyphs" >BEL-</text>
<text x="488.6" y="223.79999999999998" font-size="12" font-weight="bold" font-style="normal" text-anchor="middle" textLength="21.3" lengthAdjust="spacingAndGlyphs" >7402</text>
<text x="538.7" y="211.4" font-size="12.3" font-weight="bold" font-style="normal" text-anchor="middle" textLength="27.8" lengthAdjust="spacingAndGlyphs" >5-Aza</text>
<text x="588" y="213.1" font-size="12.3" font-weight="bold" font-style="normal" text-anchor="middle" textLength="21.3" lengthAdjust="spacingAndGlyphs" >TSA</text>
<text x="639.2" y="212.1" font-size="12.3" font-weight="bold" font-style="normal" text-anchor="middle" textLength="35.6" lengthAdjust="spacingAndGlyphs" >5-Aza+</text>
<text x="639.2" y="224.1" font-size="12" font-weight="bold" font-style="normal" text-anchor="middle" textLength="21.3" lengthAdjust="spacingAndGlyphs" >TSA</text>
<path d="M477.7 54.4 L477.7 14.6 L635.5 14.6 L635.5 160" fill="none" stroke="#000" stroke-width="2.12" stroke-linejoin="miter"/>
<path d="M485.6 54.4 L485.6 30.1 L592 30.1 L592 110" fill="none" stroke="#000" stroke-width="2.12" stroke-linejoin="miter"/>
<path d="M493.4 54.4 L493.4 43.2 L532 43.2 L532 87" fill="none" stroke="#000" stroke-width="2.12" stroke-linejoin="miter"/>
<path d="M538.5 87 L538.5 64 L582 64 L582 110" fill="none" stroke="#000" stroke-width="2.12" stroke-linejoin="miter"/>
<text x="545" y="9.7" font-size="9.299999999999999" font-weight="bold" font-style="italic" stroke-width="0.1">P</text>
<path d="M560.4 3.999999999999999 L554.0 6.6 L560.4 9.2" fill="none" stroke="#111" stroke-width="1"/>
<text x="564.3" y="9.7" font-size="8.7" font-weight="bold" textLength="19.2" lengthAdjust="spacingAndGlyphs">0.001</text>
<text x="518.5" y="26.0" font-size="9.299999999999999" font-weight="bold" font-style="italic" stroke-width="0.1">P</text>
<path d="M533.9 20.3 L527.5 22.9 L533.9 25.5" fill="none" stroke="#111" stroke-width="1"/>
<text x="537.8" y="26.0" font-size="8.7" font-weight="bold" textLength="18.7" lengthAdjust="spacingAndGlyphs">0.001</text>
<text x="494.9" y="39.2" font-size="9.1" font-weight="bold" font-style="italic" stroke-width="0.1">P</text>
<path d="M503.1 35.6 h3.6 M503.1 37.2 h3.6" fill="none" stroke="#111" stroke-width="0.8"/>
<text x="509.9" y="39.2" font-size="8.7" font-weight="bold" textLength="19.6" lengthAdjust="spacingAndGlyphs">0.008</text>
<text x="541.4" y="59.7" font-size="9.1" font-weight="bold" font-style="italic" stroke-width="0.1">P</text>
<path d="M549.6 56.1 h3.6 M549.6 57.7 h3.6" fill="none" stroke="#111" stroke-width="0.8"/>
<text x="556.4" y="59.7" font-size="8.7" font-weight="bold" textLength="20.6" lengthAdjust="spacingAndGlyphs">0.043</text>
<text x="3.3" y="270.7" font-size="18.5" font-weight="bold" font-style="normal" text-anchor="start" >C</text>
<rect x="73.70" y="422.37" width="20.00" height="32.38" fill="#b8b8b8" stroke="#4c4c4c" stroke-width="1.15"/>
<path d="M83.7 417 L83.7 427 M80.7 417 L86.7 417 M80.7 427 L86.7 427" stroke="#222" stroke-width="0.9" fill="none"/>
<rect x="123.20" y="319.05" width="20.00" height="135.70" fill="#b8b8b8" stroke="#4c4c4c" stroke-width="1.15"/>
<path d="M133.2 308.5 L133.2 327 M130.2 308.5 L136.2 308.5 M130.2 327 L136.2 327" stroke="#222" stroke-width="0.9" fill="none"/>
<rect x="172.80" y="356.62" width="20.00" height="98.13" fill="#b8b8b8" stroke="#4c4c4c" stroke-width="1.15"/>
<path d="M182.8 348 L182.8 363.5 M179.8 348 L185.8 348 M179.8 363.5 L185.8 363.5" stroke="#222" stroke-width="0.9" fill="none"/>
<rect x="223.20" y="387.93" width="20.00" height="66.82" fill="#b8b8b8" stroke="#4c4c4c" stroke-width="1.15"/>
<path d="M233.2 378.3 L233.2 396.7 M230.2 378.3 L236.2 378.3 M230.2 396.7 L236.2 396.7" stroke="#222" stroke-width="0.9" fill="none"/>
<rect x="272.70" y="427.85" width="20.00" height="26.90" fill="#b8b8b8" stroke="#4c4c4c" stroke-width="1.15"/>
<path d="M282.7 420 L282.7 436 M279.7 420 L285.7 420 M279.7 436 L285.7 436" stroke="#222" stroke-width="0.9" fill="none"/>
<path d="M59.3 297.3 L59.3 454.85 L308.5 454.85" fill="none" stroke="#000" stroke-width="1.8" stroke-linejoin="miter"/>
<text x="47.6" y="460.45" font-size="14.5" font-weight="bold" font-style="normal" text-anchor="end" >0</text>
<line x1="59.3" y1="423.54" x2="64.3" y2="423.54" stroke="#000" stroke-width="1.8"/>
<text x="47.6" y="428.64" font-size="14.5" font-weight="bold" font-style="normal" text-anchor="end" textLength="18.2" lengthAdjust="spacingAndGlyphs" >0.2</text>
<line x1="59.3" y1="392.23" x2="64.3" y2="392.23" stroke="#000" stroke-width="1.8"/>
<text x="47.6" y="397.33" font-size="14.5" font-weight="bold" font-style="normal" text-anchor="end" textLength="18.2" lengthAdjust="spacingAndGlyphs" >0.4</text>
<line x1="59.3" y1="360.92" x2="64.3" y2="360.92" stroke="#000" stroke-width="1.8"/>
<text x="47.6" y="366.02" font-size="14.5" font-weight="bold" font-style="normal" text-anchor="end" textLength="18.2" lengthAdjust="spacingAndGlyphs" >0.6</text>
<line x1="59.3" y1="329.61" x2="64.3" y2="329.61" stroke="#000" stroke-width="1.8"/>
<text x="47.6" y="334.71" font-size="14.5" font-weight="bold" font-style="normal" text-anchor="end" textLength="18.2" lengthAdjust="spacingAndGlyphs" >0.8</text>
<line x1="59.3" y1="298.30" x2="64.3" y2="298.30" stroke="#000" stroke-width="1.8"/>
<text x="47.6" y="303.40" font-size="14.5" font-weight="bold" font-style="normal" text-anchor="end" >1</text>
<line x1="109" y1="454.85" x2="109" y2="451.85" stroke="#000" stroke-width="1.2"/>
<line x1="158.5" y1="454.85" x2="158.5" y2="451.85" stroke="#000" stroke-width="1.2"/>
<line x1="208.5" y1="454.85" x2="208.5" y2="451.85" stroke="#000" stroke-width="1.2"/>
<line x1="258.5" y1="454.85" x2="258.5" y2="451.85" stroke="#000" stroke-width="1.2"/>
<line x1="308" y1="454.85" x2="308" y2="451.85" stroke="#000" stroke-width="1.2"/>
<g transform="translate(21.2 439.9) rotate(-90)" font-size="14.3" font-weight="bold"><text x="0" y="0" textLength="66" lengthAdjust="spacingAndGlyphs">H3R8me2s/</text><text x="70" y="0" font-weight="normal" font-size="14" stroke-width="0.5">&#946;</text><text x="82.5" y="0" textLength="34.6" lengthAdjust="spacingAndGlyphs">-actin</text></g>
<text x="83" y="473.1" font-size="12.3" font-weight="bold" font-style="normal" text-anchor="middle" textLength="28.7" lengthAdjust="spacingAndGlyphs" >QSG-</text>
<text x="83" y="485" font-size="12" font-weight="bold" font-style="normal" text-anchor="middle" textLength="21.6" lengthAdjust="spacingAndGlyphs" >7701</text>
<text x="133.5" y="473.1" font-size="12.3" font-weight="bold" font-style="normal" text-anchor="middle" textLength="26.2" lengthAdjust="spacingAndGlyphs" >BEL-</text>
<text x="133.5" y="485" font-size="12" font-weight="bold" font-style="normal" text-anchor="middle" textLength="21.6" lengthAdjust="spacingAndGlyphs" >7402</text>
<text x="184" y="472.6" font-size="12.3" font-weight="bold" font-style="normal" text-anchor="middle" textLength="27.5" lengthAdjust="spacingAndGlyphs" >5-Aza</text>
<text x="233.3" y="474.1" font-size="12.3" font-weight="bold" font-style="normal" text-anchor="middle" textLength="21.3" lengthAdjust="spacingAndGlyphs" >TSA</text>
<text x="283.5" y="473.1" font-size="12.3" font-weight="bold" font-style="normal" text-anchor="middle" textLength="35.3" lengthAdjust="spacingAndGlyphs" >5-Aza+</text>
<text x="283.5" y="485" font-size="12" font-weight="bold" font-style="normal" text-anchor="middle" textLength="21.3" lengthAdjust="spacingAndGlyphs" >TSA</text>
<path d="M125 302.4 L125 263 L283 263 L283 412.5" fill="none" stroke="#000" stroke-width="2.12" stroke-linejoin="miter"/>
<path d="M131.3 302.4 L131.3 279.9 L240.4 279.9 L240.4 367.4" fill="none" stroke="#000" stroke-width="2.12" stroke-linejoin="miter"/>
<path d="M138.2 302.4 L138.2 292.4 L180 292.4 L180 338.6" fill="none" stroke="#000" stroke-width="2.12" stroke-linejoin="miter"/>
<path d="M187 338.6 L187 325 L230.1 325 L230.1 367.4" fill="none" stroke="#000" stroke-width="2.12" stroke-linejoin="miter"/>
<text x="191" y="258.2" font-size="9.299999999999999" font-weight="bold" font-style="italic" stroke-width="0.1">P</text>
<path d="M206.4 252.5 L200.0 255.1 L206.4 257.7" fill="none" stroke="#111" stroke-width="1"/>
<text x="210.3" y="258.2" font-size="8.7" font-weight="bold" textLength="19.7" lengthAdjust="spacingAndGlyphs">0.001</text>
<text x="168" y="274.7" font-size="9.299999999999999" font-weight="bold" font-style="italic" stroke-width="0.1">P</text>
<path d="M183.4 269.0 L177.0 271.59999999999997 L183.4 274.2" fill="none" stroke="#111" stroke-width="1"/>
<text x="187.3" y="274.7" font-size="8.7" font-weight="bold" textLength="18.7" lengthAdjust="spacingAndGlyphs">0.001</text>
<text x="141.4" y="288.7" font-size="9.1" font-weight="bold" font-style="italic" stroke-width="0.1">P</text>
<path d="M149.6 285.09999999999997 h3.6 M149.6 286.7 h3.6" fill="none" stroke="#111" stroke-width="0.8"/>
<text x="156.4" y="288.7" font-size="8.7" font-weight="bold" textLength="19.6" lengthAdjust="spacingAndGlyphs">0.012</text>
<text x="190.4" y="320.2" font-size="9.1" font-weight="bold" font-style="italic" stroke-width="0.1">P</text>
<path d="M198.6 316.59999999999997 h3.6 M198.6 318.2 h3.6" fill="none" stroke="#111" stroke-width="0.8"/>
<text x="205.4" y="320.2" font-size="8.7" font-weight="bold" textLength="20.1" lengthAdjust="spacingAndGlyphs">0.029</text>
<text x="360.9" y="271.9" font-size="18" font-weight="bold" font-style="normal" text-anchor="start" >D</text>
<rect x="424.65" y="334.95" width="20.70" height="121.40" fill="#b8b8b8" stroke="#4c4c4c" stroke-width="1.15"/>
<path d="M435.0 327.3 L435.0 342.3 M432.0 327.3 L438.0 327.3 M432.0 342.3 L438.0 342.3" stroke="#222" stroke-width="0.9" fill="none"/>
<rect x="525.60" y="417.74" width="20.00" height="38.61" fill="#b8b8b8" stroke="#4c4c4c" stroke-width="1.15"/>
<path d="M535.6 412 L535.6 422.3 M532.6 412 L538.6 412 M532.6 422.3 L538.6 422.3" stroke="#222" stroke-width="0.9" fill="none"/>
<rect x="575.60" y="386.45" width="20.00" height="69.90" fill="#b8b8b8" stroke="#4c4c4c" stroke-width="1.15"/>
<path d="M585.6 380.8 L585.6 391.5 M582.6 380.8 L588.6 380.8 M582.6 391.5 L588.6 391.5" stroke="#222" stroke-width="0.9" fill="none"/>
<rect x="625.40" y="341.47" width="20.80" height="114.88" fill="#b8b8b8" stroke="#4c4c4c" stroke-width="1.15"/>
<path d="M635.8 334 L635.8 349.5 M632.8 334 L638.8 334 M632.8 349.5 L638.8 349.5" stroke="#222" stroke-width="0.9" fill="none"/>
<path d="M409.9 299.0 L409.9 456.45 L662.1 456.45" fill="none" stroke="#000" stroke-width="1.8" stroke-linejoin="miter"/>
<text x="398.7" y="462.05" font-size="14.5" font-weight="bold" font-style="normal" text-anchor="end" >0</text>
<line x1="409.9" y1="430.38" x2="414.9" y2="430.38" stroke="#000" stroke-width="1.8"/>
<text x="398.7" y="435.48" font-size="14.5" font-weight="bold" font-style="normal" text-anchor="end" textLength="18.2" lengthAdjust="spacingAndGlyphs" >0.2</text>
<line x1="409.9" y1="404.30" x2="414.9" y2="404.30" stroke="#000" stroke-width="1.8"/>
<text x="398.7" y="409.40" font-size="14.5" font-weight="bold" font-style="normal" text-anchor="end" textLength="18.2" lengthAdjust="spacingAndGlyphs" >0.4</text>
<line x1="409.9" y1="378.23" x2="414.9" y2="378.23" stroke="#000" stroke-width="1.8"/>
<text x="398.7" y="383.33" font-size="14.5" font-weight="bold" font-style="normal" text-anchor="end" textLength="18.2" lengthAdjust="spacingAndGlyphs" >0.6</text>
<line x1="409.9" y1="352.15" x2="414.9" y2="352.15" stroke="#000" stroke-width="1.8"/>
<text x="398.7" y="357.25" font-size="14.5" font-weight="bold" font-style="normal" text-anchor="end" textLength="18.2" lengthAdjust="spacingAndGlyphs" >0.8</text>
<line x1="409.9" y1="326.07" x2="414.9" y2="326.07" stroke="#000" stroke-width="1.8"/>
<text x="398.7" y="331.18" font-size="14.5" font-weight="bold" font-style="normal" text-anchor="end" >1</text>
<line x1="409.9" y1="300.00" x2="414.9" y2="300.00" stroke="#000" stroke-width="1.8"/>
<text x="398.7" y="305.10" font-size="14.5" font-weight="bold" font-style="normal" text-anchor="end" textLength="18.2" lengthAdjust="spacingAndGlyphs" >1.2</text>
<line x1="460.5" y1="456.45" x2="460.5" y2="453.45" stroke="#000" stroke-width="1.2"/>
<line x1="511.5" y1="456.45" x2="511.5" y2="453.45" stroke="#000" stroke-width="1.2"/>
<line x1="561" y1="456.45" x2="561" y2="453.45" stroke="#000" stroke-width="1.2"/>
<line x1="610.5" y1="456.45" x2="610.5" y2="453.45" stroke="#000" stroke-width="1.2"/>
<line x1="661.3" y1="456.45" x2="661.3" y2="453.45" stroke="#000" stroke-width="1.2"/>
<g transform="translate(372.3 435) rotate(-90)" font-size="14.3" font-weight="bold"><text x="0" y="0" textLength="67.8" lengthAdjust="spacingAndGlyphs">H3R8me2a/</text><text x="72.3" y="0" font-weight="normal" font-size="14" stroke-width="0.5">&#946;</text><text x="85" y="0" textLength="34.2" lengthAdjust="spacingAndGlyphs">-actin</text></g>
<text x="437.8" y="472.6" font-size="12.3" font-weight="bold" font-style="normal" text-anchor="middle" textLength="28.0" lengthAdjust="spacingAndGlyphs" >QSG-</text>
<text x="437.8" y="485.2" font-size="12" font-weight="bold" font-style="normal" text-anchor="middle" textLength="21.3" lengthAdjust="spacingAndGlyphs" >7701</text>
<text x="488" y="472.6" font-size="12.3" font-weight="bold" font-style="normal" text-anchor="middle" textLength="25.8" lengthAdjust="spacingAndGlyphs" >BEL-</text>
<text x="488" y="485.2" font-size="12" font-weight="bold" font-style="normal" text-anchor="middle" textLength="21.3" lengthAdjust="spacingAndGlyphs" >7402</text>
<text x="538.5" y="472.1" font-size="12.3" font-weight="bold" font-style="normal" text-anchor="middle" textLength="27.8" lengthAdjust="spacingAndGlyphs" >5-Aza</text>
<text x="587.5" y="473.6" font-size="12.3" font-weight="bold" font-style="normal" text-anchor="middle" textLength="21.3" lengthAdjust="spacingAndGlyphs" >TSA</text>
<text x="638.8" y="472.6" font-size="12.3" font-weight="bold" font-style="normal" text-anchor="middle" textLength="35.6" lengthAdjust="spacingAndGlyphs" >5-Aza+</text>
<text x="638.8" y="485.2" font-size="12" font-weight="bold" font-style="normal" text-anchor="middle" textLength="21.3" lengthAdjust="spacingAndGlyphs" >TSA</text>
<path d="M480.5 441 L480.5 309.5 L635 309.5 L635 328.7" fill="none" stroke="#000" stroke-width="2.12" stroke-linejoin="miter"/>
<path d="M488.5 441 L488.5 343.5 L590 343.5 L590 374" fill="none" stroke="#000" stroke-width="2.12" stroke-linejoin="miter"/>
<path d="M497 441 L497 396.9 L531.5 396.9 L531.5 405.7" fill="none" stroke="#000" stroke-width="2.12" stroke-linejoin="miter"/>
<path d="M537.7 405.7 L537.7 367 L583.5 367 L583.5 374" fill="none" stroke="#000" stroke-width="2.12" stroke-linejoin="miter"/>
<text x="543" y="304.7" font-size="9.299999999999999" font-weight="bold" font-style="italic" stroke-width="0.1">P</text>
<path d="M558.4 299.0 L552.0 301.59999999999997 L558.4 304.2" fill="none" stroke="#111" stroke-width="1"/>
<text x="562.3" y="304.7" font-size="8.7" font-weight="bold" textLength="19.2" lengthAdjust="spacingAndGlyphs">0.001</text>
<text x="518.5" y="338.2" font-size="9.299999999999999" font-weight="bold" font-style="italic" stroke-width="0.1">P</text>
<path d="M533.9 332.5 L527.5 335.09999999999997 L533.9 337.7" fill="none" stroke="#111" stroke-width="1"/>
<text x="537.8" y="338.2" font-size="8.7" font-weight="bold" textLength="19.2" lengthAdjust="spacingAndGlyphs">0.001</text>
<text x="496.4" y="391.9" font-size="9.1" font-weight="bold" font-style="italic" stroke-width="0.1">P</text>
<path d="M504.6 388.29999999999995 h3.6 M504.6 389.9 h3.6" fill="none" stroke="#111" stroke-width="0.8"/>
<text x="511.4" y="391.9" font-size="8.7" font-weight="bold" textLength="20.399999999999956" lengthAdjust="spacingAndGlyphs">0.006</text>
<text x="542.9" y="361.7" font-size="9.1" font-weight="bold" font-style="italic" stroke-width="0.1">P</text>
<path d="M551.1 358.09999999999997 h3.6 M551.1 359.7 h3.6" fill="none" stroke="#111" stroke-width="0.8"/>
<text x="557.9" y="361.7" font-size="8.7" font-weight="bold" textLength="20.1" lengthAdjust="spacingAndGlyphs">0.023</text>
</g></svg></body></html>
